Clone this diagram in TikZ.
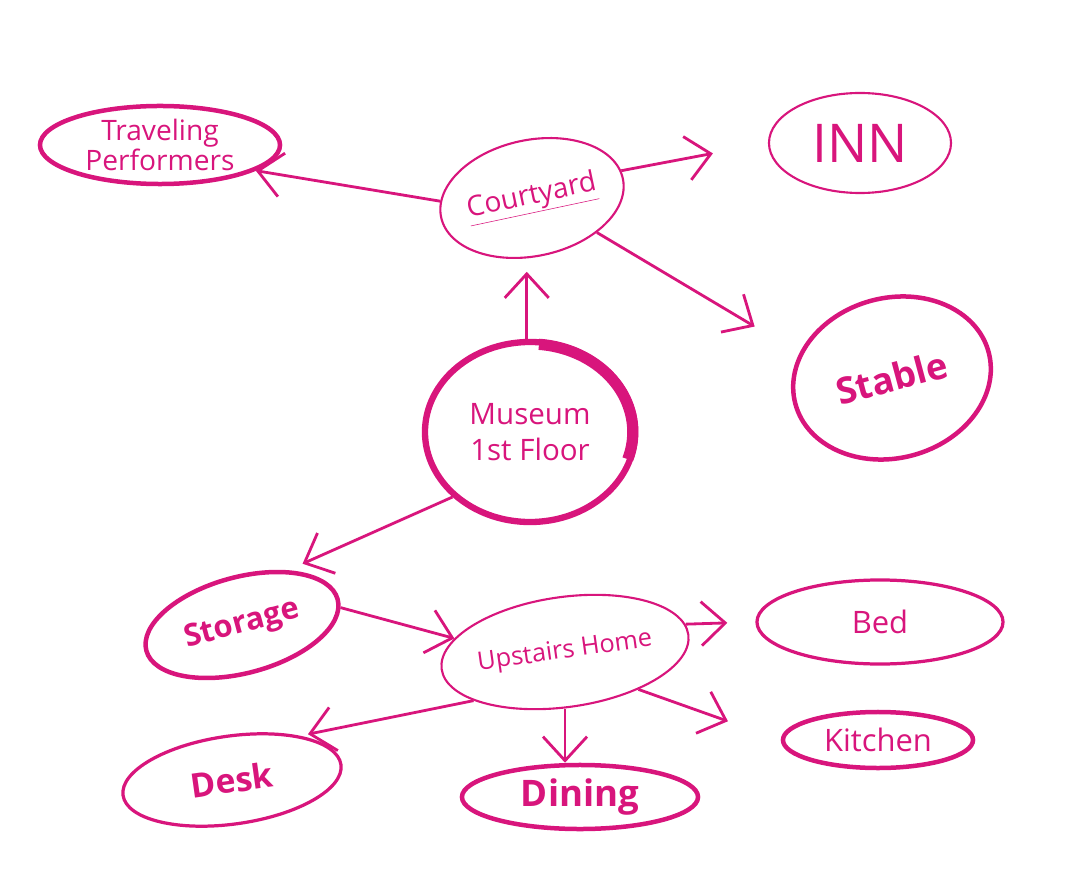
\documentclass[tikz,border=0pt]{standalone}
\usepackage{fontspec}
\setmainfont{Open Sans}
\usetikzlibrary{shapes.geometric,arrows.meta}
\definecolor{ink}{HTML}{D8157C}
\tikzset{
  bub/.style={ellipse, draw=ink, text=ink, align=center, inner sep=0pt},
  thin/.style={line width=1.5pt},
  mid/.style={line width=2.3pt},
  thick/.style={line width=3.2pt},
  arr/.style={draw=ink, line width=2pt, -{Straight Barb[length=6mm,width=11mm]}}
}
\begin{document}
\begin{tikzpicture}[x=0.025cm,y=-0.025cm]
\useasboundingbox (0,0) rectangle (1092,892);
\node[bub,thick,minimum width=6cm,minimum height=1.95cm,font=\fontsize{20}{21}\selectfont] (trav) at (160,145) {Traveling\\Performers};
\node[bub,thin,minimum width=4.25cm,minimum height=2.9cm,rotate=12,font=\fontsize{20}{22}\selectfont] (court) at (532,198) {\underline{Courtyard}};
\node[bub,thin,minimum width=4.55cm,minimum height=2.5cm,font=\fontsize{38}{40}\selectfont] (inn) at (860,143) {INN};
\node[bub,thick,minimum width=5cm,minimum height=4cm,rotate=15,font=\fontsize{26}{28}\selectfont\bfseries] (stable) at (892,378) {Stable};
\node[bub,line width=4.5pt,minimum width=5.25cm,minimum height=4.5cm,font=\fontsize{21}{26}\selectfont] (museum) at (530,432) {Museum\\1st Floor};
\draw[ink,line width=8pt] (museum.center) ++(85:2.57cm and 2.2cm) arc[start angle=85,end angle=-18,x radius=2.57cm,y radius=2.2cm];
\node[bub,thick,minimum width=4.95cm,minimum height=2.4cm,rotate=15,font=\fontsize{22}{24}\selectfont\bfseries] (storage) at (242,625) {Storage};
\node[bub,thin,minimum width=5.3cm,minimum height=2.75cm,rotate=8,font=\fontsize{18}{20}\selectfont] (up) at (565,652) {Upstairs Home};
\node[bub,mid,minimum width=6.15cm,minimum height=2.1cm,font=\fontsize{22}{24}\selectfont] (bed) at (880,622) {Bed};
\node[bub,thick,minimum width=4.75cm,minimum height=1.4cm,font=\fontsize{22}{24}\selectfont] (kitchen) at (878,740) {Kitchen};
\node[bub,mid,minimum width=5.5cm,minimum height=2.2cm,rotate=8,font=\fontsize{24}{26}\selectfont\bfseries] (desk) at (232,780) {Desk};
\node[bub,thick,minimum width=5.9cm,minimum height=1.6cm,font=\fontsize{26}{28}\selectfont\bfseries] (dining) at (580,797) {Dining};
% connectors
\draw[arr] (court.170) -- (trav.-15);
\draw[arr,shorten >=1.4cm] (court.5) -- (inn.west);
\draw[arr,shorten >=1.3cm] (court.-40) -- (stable.150);
\draw[arr,shorten >=0.4cm] (museum.92) -- (museum.92 |- court.-90);
\draw[arr,shorten >=0.4cm] (museum.-140) -- (storage.35);
\draw[arr] (storage.-5) -- (up.165);
\draw[arr,shorten >=0.7cm] (up.5) -- (bed.west);
\draw[arr,shorten >=1.4cm] (up.-35) -- (kitchen.west);
\draw[arr] (up.-98) -- (up.-98 |- dining.north);
\draw[arr,shorten >=0.2cm] (up.-160) -- (desk.25);
\end{tikzpicture}
\end{document}
